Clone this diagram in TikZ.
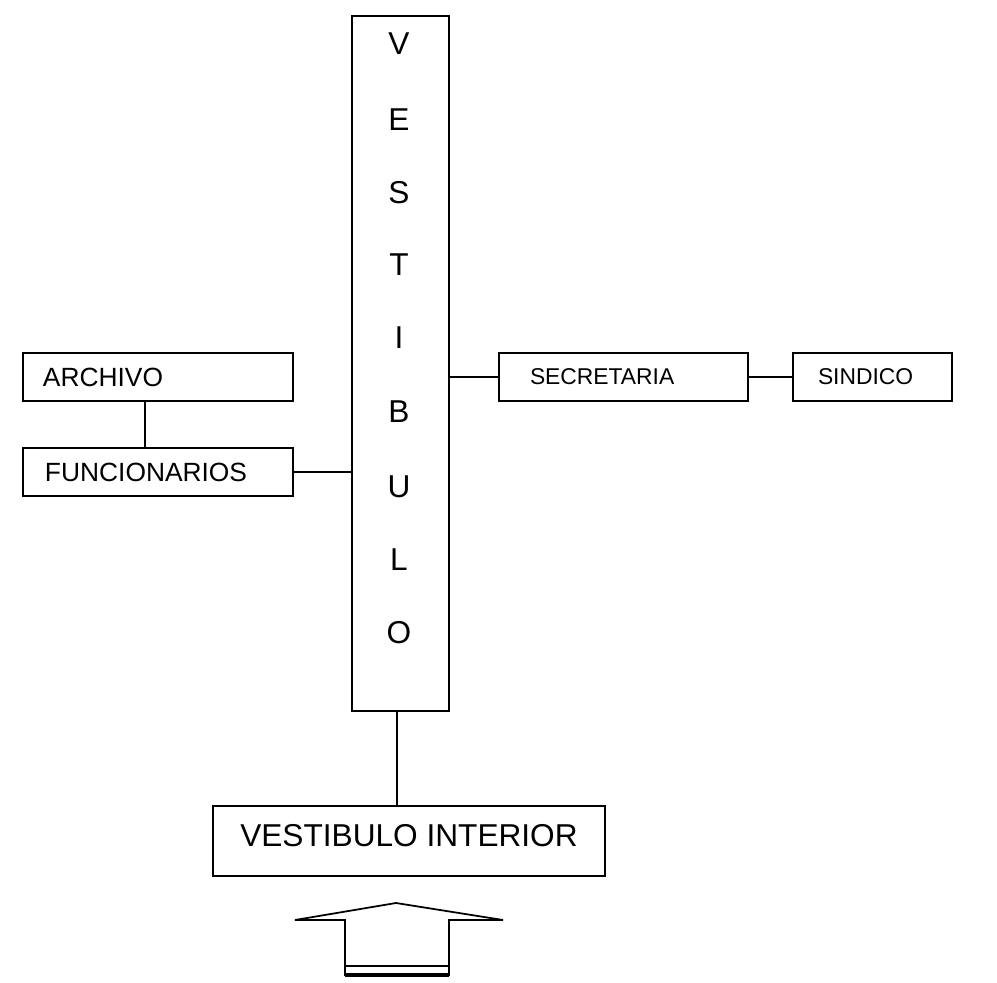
\documentclass[tikz,border=0pt]{standalone}
\usepackage{fontspec}
\setmainfont{Liberation Sans}
\usetikzlibrary{positioning,calc}
\tikzstyle{room}=[rectangle,draw,line width=1pt,inner sep=0pt]
\tikzstyle{letter}=[font=\fontsize{18}{20}\selectfont,inner sep=0pt]
\tikzstyle{link} = [draw,line width=1pt]

\begin{document}
\begin{tikzpicture}[x=0.02cm, y=-0.02cm]

  \useasboundingbox (0,0) rectangle (997,983);

  \node[room, minimum width=1.94cm, minimum height=13.9cm] (vest) at (400.5,363.5) {};

   \foreach \y/\name/\label in {44/l1/V, 120/l2/E, 193/l3/S, 265/l4/T, 338/l5/I, 412/l6/B, 487/l7/U, 560/l8/L, 633/l9/O}
          \node[letter] (\name) at (399,\y) {\label};

   \foreach \x/\y/\w/\pad/\size/\name/\label in {158/377/270/20/15/archivo/ARCHIVO, 158/472/270/22/15/funcionarios/FUNCIONARIOS, 623.5/377/249/31/13/secretaria/SECRETARIA, 872.5/377/159/25/13/sindico/SINDICO}
   {
          \pgfmathsetmacro\tw{(\w-2*\pad)*0.02}
          \pgfmathsetmacro\mw{\w*0.02}
          \pgfmathsetmacro\ps{\pad*0.02}
          \node[room, minimum width=\mw cm, minimum height=0.96cm, text width=\tw cm, align=left, inner xsep=\ps cm, font=\fontsize{\size}{17}\selectfont] (\name) at (\x,\y) {\label};
   }

  \node[room, minimum width=7.84cm, minimum height=1.4cm, text depth=0.24cm, font=\fontsize{18}{20}\selectfont] (interior) at (409,841) {VESTIBULO INTERIOR};

  \path[link] ([xshift=-0.26cm]archivo.south) -- ([xshift=-0.26cm]funcionarios.north);
  \path[link] (funcionarios.east) -- (funcionarios.east -| vest.west);
  \path[link] (secretaria.west -| vest.east) -- (secretaria.west);
  \path[link] (secretaria.east) -- (sindico.west);
  \path[link] ([xshift=-0.07cm]vest.south) -- ([xshift=-0.07cm]vest.south |- interior.north);

  % entrada
  \coordinate (entry) at (396,903);
  \draw[line width=1pt] (entry) -- (503,920) -- (449,920) -- (449,975) -- (345,975) -- (345,920) -- (295,920) -- cycle;
  \draw[line width=2pt] (345,975) -- (449,975);
  \draw[line width=0.8pt] (345,966) -- (449,966);

\end{tikzpicture}
\end{document}
